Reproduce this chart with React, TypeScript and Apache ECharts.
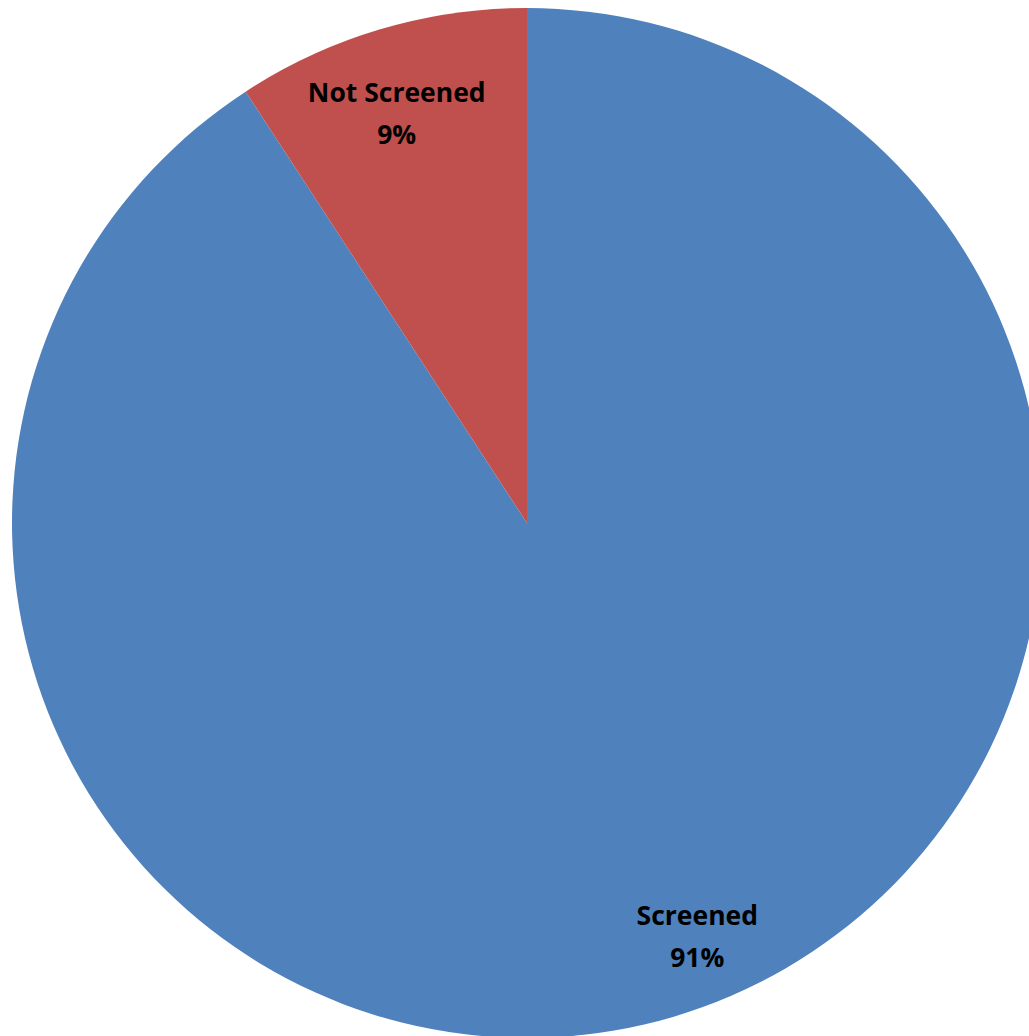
import React, { useEffect, useRef } from "react";
import * as echarts from "echarts";

const categories = ["Screened", "Not Screened"];
const values = [90.8, 9.2];
const colors = ["#4F81BD", "#C0504D"];
const labelShiftX = [45, -5];
const labelShiftY = [-8, 11];

export default function App() {
  const ref = useRef<HTMLDivElement>(null);
  useEffect(() => {
    if (!ref.current) return;
    const chart = echarts.init(ref.current, undefined, { renderer: "svg" });
    const data = categories.map((name, i) => ({
      name,
      value: values[i],
      itemStyle: { color: colors[i] },
    }));
    chart.setOption({
      animation: false,
      series: [
        {
          type: "pie",
          center: [527, 523],
          radius: [0, 515],
          startAngle: 90,
          clockwise: true,
          silent: true,
          data,
          label: { show: false },
          labelLine: { show: false },
          itemStyle: { borderWidth: 0 },
        },
        {
          type: "pie",
          center: [527, 523],
          radius: [358, 515],
          startAngle: 90,
          clockwise: true,
          silent: true,
          data: data.map((d) => ({ ...d, itemStyle: { color: "rgba(0,0,0,0)" } })),
          label: {
            show: true,
            position: "inside",
            formatter: (p: any) => `${p.name}\n${Math.round(p.percent)}%`,
            fontFamily: "Open Sans",
            fontWeight: "bold",
            fontSize: 26.5,
            lineHeight: 42,
            color: "#000",
          },
          labelLayout: (params: any) => ({
            dx: labelShiftX[params.dataIndex] || 0,
            dy: labelShiftY[params.dataIndex] || 0,
          }),
          labelLine: { show: false },
        },
      ],
    });
    return () => chart.dispose();
  }, []);
  return (
    <div
      ref={ref}
      style={{ position: "fixed", left: 0, top: 0, width: 1029, height: 1036, background: "#fff" }}
    />
  );
}
